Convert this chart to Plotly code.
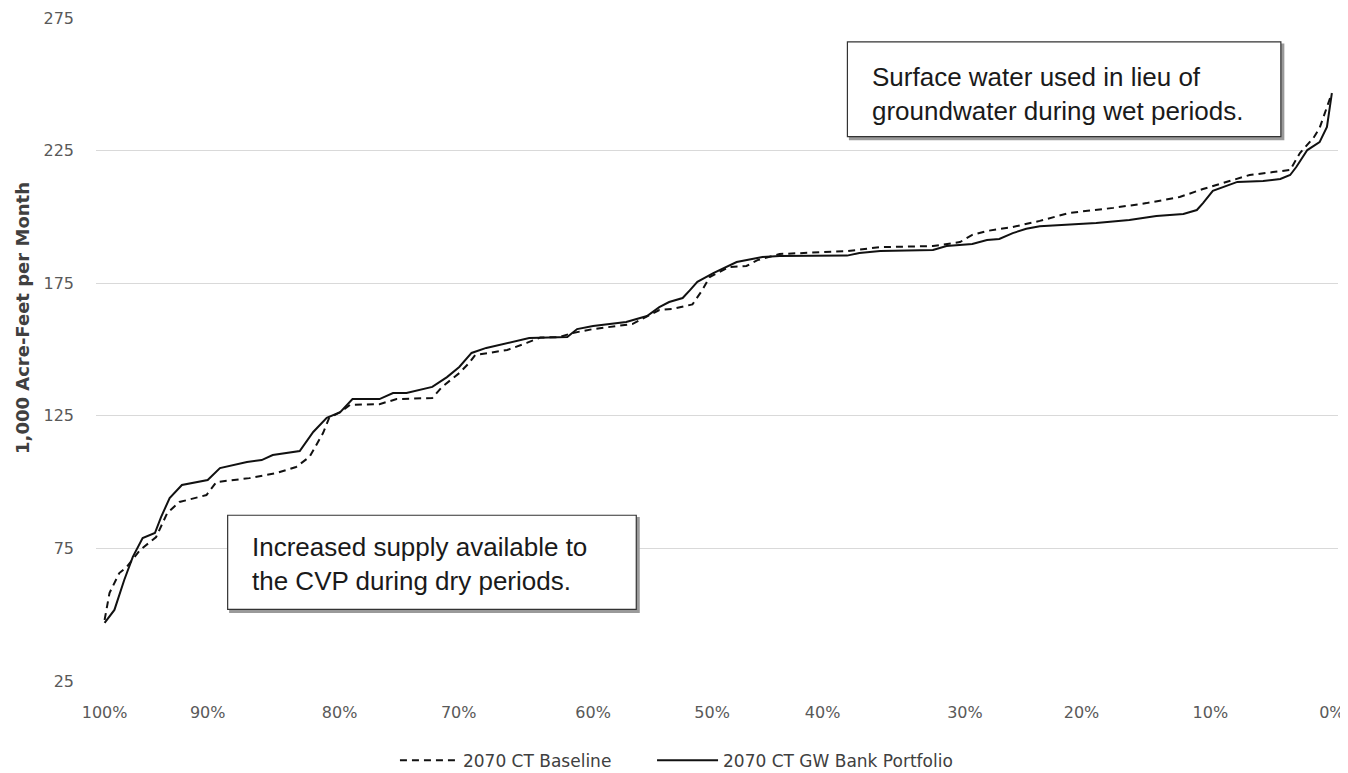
import plotly.graph_objects as go

# position along the exceedance axis (100 = left end, 0 = right end)
# and monthly supply (1,000 AF)
gw_x = [100, 99.2, 98.4, 97.7, 96.9, 95.9, 95.4, 94.7, 93.7, 91.6,
        90.6, 88.4, 87.2, 86.3, 84.1, 83.0, 81.9, 80.8, 79.8, 77.6,
        76.5, 75.4, 73.3, 72.1, 71.1, 70.1, 68.9, 67.8, 66.7, 65.4,
        62.3, 61.5, 60.2, 57.5, 55.8, 54.8, 54.0, 52.9, 52.3, 51.7,
        50.4, 48.5, 46.4, 45.0, 39.5, 38.5, 36.8, 32.5, 31.4, 29.3,
        28.1, 27.1, 26.0, 24.9, 23.8, 21.9, 19.2, 16.5, 14.3, 12.1,
        11.0, 10.5, 9.7, 7.7, 5.6, 4.2, 3.4, 2.9, 2.0, 1.0,
        0.4, 0.0]
gw_val = [46.9, 51.8, 63.1, 71.8, 78.9, 80.8, 86.8, 94.0, 98.9, 100.8,
          105.3, 107.6, 108.3, 110.2, 111.7, 118.9, 124.2, 126.4, 131.3, 131.3,
          133.6, 133.6, 135.9, 139.6, 143.4, 148.7, 150.6, 151.7, 152.8, 154.3,
          154.7, 157.7, 158.9, 160.4, 162.6, 166.0, 167.9, 169.4, 172.4, 175.5,
          178.8, 183.0, 184.9, 185.3, 185.4, 186.4, 187.1, 187.5, 189.0, 189.8,
          191.3, 191.7, 193.9, 195.5, 196.5, 197.0, 197.7, 198.8, 200.3, 201.1,
          202.6, 205.2, 209.8, 213.2, 213.5, 214.3, 215.8, 218.8, 225.2, 228.2,
          233.9, 246.7]

base_x = [100, 99.6, 98.8, 98.2, 97.1, 95.8, 94.9, 93.9, 91.7, 90.9,
          88.2, 86.0, 84.4, 83.3, 82.2, 81.7, 80.8, 80.0, 77.6, 76.2,
          73.3, 72.5, 71.1, 70.3, 69.8, 67.2, 65.6, 64.5, 62.9, 61.9,
          60.2, 57.0, 55.6, 54.8, 53.7, 52.1, 51.3, 50.7, 49.1, 47.7,
          46.8, 45.0, 39.5, 36.8, 32.5, 30.3, 29.3, 28.1, 26.0, 23.8,
          21.4, 17.8, 15.1, 12.4, 10.5, 8.9, 6.7, 4.8, 3.4, 2.6,
          1.5, 1.0, 0.0]
base_val = [48.0, 58.2, 65.7, 68.0, 74.4, 79.3, 88.3, 92.5, 95.1, 100.0,
            101.5, 103.4, 105.7, 109.5, 118.5, 124.2, 126.4, 129.1, 129.4, 131.3,
            131.7, 135.9, 141.1, 144.9, 147.9, 149.8, 152.5, 154.5, 154.7, 156.2,
            157.7, 159.6, 163.0, 164.9, 165.3, 167.0, 172.4, 177.3, 181.1, 181.5,
            183.7, 186.0, 187.1, 188.6, 189.0, 190.5, 193.2, 194.7, 196.2, 198.5,
            201.5, 203.4, 205.2, 207.5, 210.5, 212.8, 215.8, 216.9, 217.7, 224.1,
            229.8, 233.5, 246.7]

# category labels sit at uneven spots along the axis (as in the source)
x_tick_pos = [100, 91.6, 80.85, 71.15, 60.2, 50.5, 41.5, 29.9, 20.4, 9.9, 0]
x_labels = ["100%", "90%", "80%", "70%", "60%", "50%", "40%", "30%", "20%", "10%", "0%"]
y_ticks = [25, 75, 125, 175, 225, 275]

font_ax = "DejaVu Sans, sans-serif"
font_box = "Liberation Sans, Arial, sans-serif"

fig = go.Figure()
fig.add_trace(go.Scatter(
    x=base_x, y=base_val, mode="lines", name="2070 CT Baseline",
    line=dict(color="#111111", width=2, dash="7px,5px"), legend="legend",
))
fig.add_trace(go.Scatter(
    x=gw_x, y=gw_val, mode="lines", name="2070 CT GW Bank Portfolio",
    line=dict(color="#111111", width=2), legend="legend2",
))

# callout boxes: shadow, frame, then text
for x0, x1, y0, y1 in [(0.605, 0.954, 0.821, 0.964), (0.106, 0.435, 0.108, 0.250)]:
    fig.add_shape(type="rect", xref="paper", yref="paper",
                  x0=x0 + 0.002, x1=x1 + 0.002, y0=y0 - 0.004, y1=y1 - 0.004,
                  line=dict(color="#9a9a9a", width=2), fillcolor="#9a9a9a", layer="above")
    fig.add_shape(type="rect", xref="paper", yref="paper",
                  x0=x0, x1=x1, y0=y0, y1=y1,
                  line=dict(color="#333333", width=1.2), fillcolor="white", layer="above")

fig.add_annotation(
    text="Surface water used in lieu of<br>groundwater during wet periods.",
    xref="paper", yref="paper", x=0.623, y=0.886, xanchor="left", yanchor="middle",
    align="left", showarrow=False,
    font=dict(family=font_box, size=26, color="#1a1a1a"),
)
fig.add_annotation(
    text="Increased supply available to<br>the CVP during dry periods.",
    xref="paper", yref="paper", x=0.124, y=0.177, xanchor="left", yanchor="middle",
    align="left", showarrow=False,
    font=dict(family=font_box, size=26, color="#1a1a1a"),
)
fig.add_annotation(
    text="<b>1,000 Acre-Feet per Month</b>", textangle=-90,
    xref="paper", yref="paper", x=-0.0596, y=0.5475,
    xanchor="center", yanchor="middle", showarrow=False,
    font=dict(family=font_ax, size=18, color="#404040"),
)

leg = dict(
    orientation="h", yref="container", y=0.016, yanchor="middle", xanchor="left",
    font=dict(family=font_ax, size=17, color="#404040"), bgcolor="rgba(0,0,0,0)",
)

fig.update_layout(
    width=1340, height=765,
    margin=dict(l=88, r=10, t=10, b=92),
    plot_bgcolor="white", paper_bgcolor="white",
    showlegend=True,
    legend=dict(leg, x=0.2407, itemwidth=58),
    legend2=dict(leg, x=0.4477, itemwidth=61),
    xaxis=dict(
        range=[100.7, -0.5], tickvals=x_tick_pos, ticktext=x_labels,
        showgrid=False, zeroline=False, showline=False, automargin=False,
        ticks="", ticklabelstandoff=20,
        tickfont=dict(family=font_ax, size=16, color="#595959"),
    ),
    yaxis=dict(
        range=[25, 275], tickvals=y_ticks,
        showgrid=True, gridcolor="#d9d9d9", gridwidth=1,
        zeroline=False, showline=False, automargin=False,
        ticks="", ticklabelstandoff=21,
        tickfont=dict(family=font_ax, size=16, color="#595959"),
    ),
)

fig.write_html("out.html")
